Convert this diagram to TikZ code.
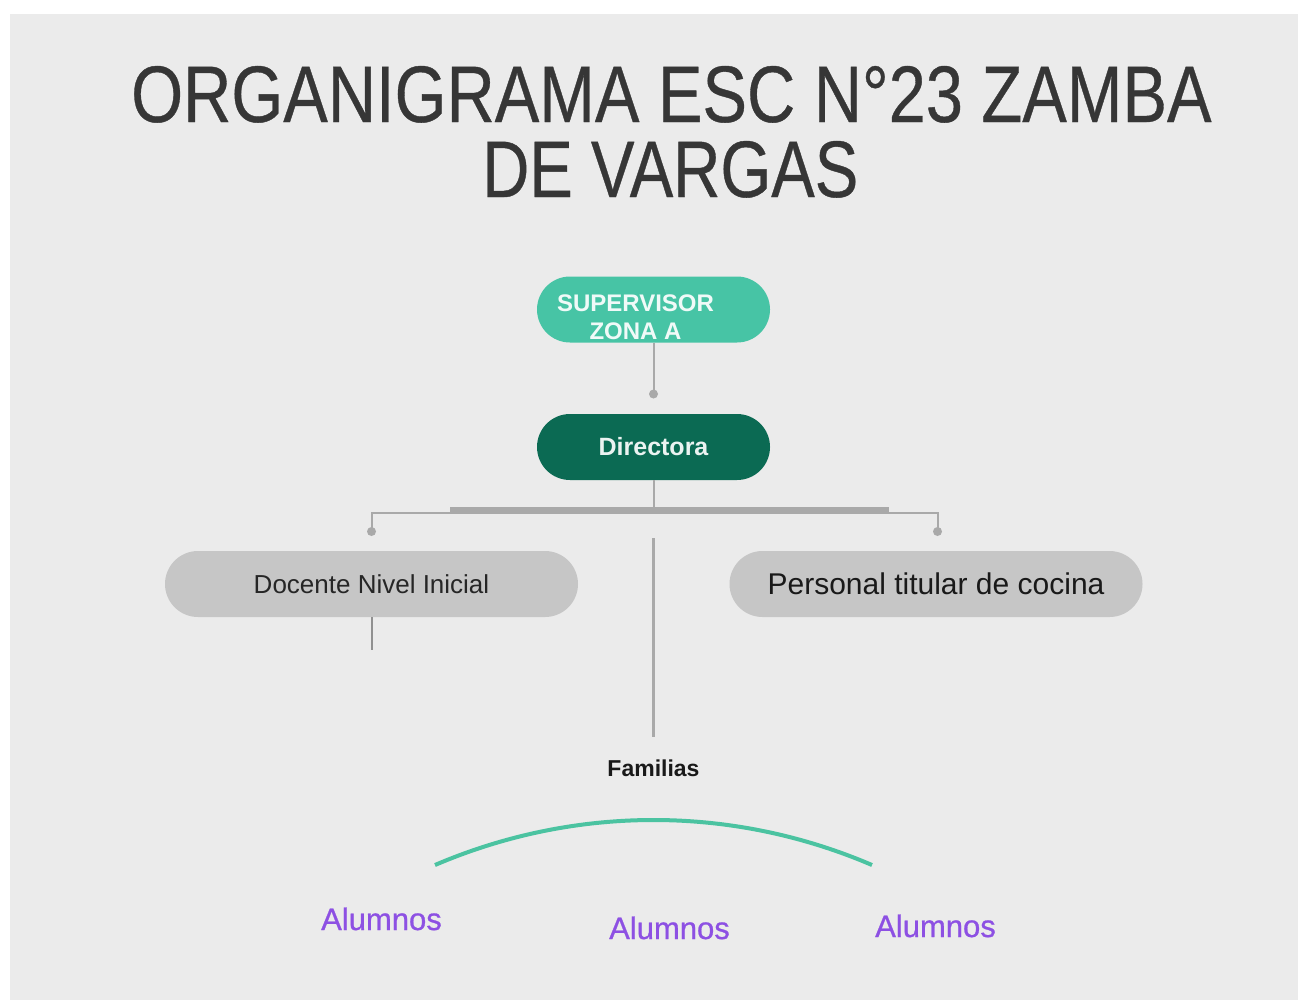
\documentclass[tikz,border=0pt]{standalone}
\usepackage{fontspec}
\setmainfont{Liberation Sans}
\newfontfamily\medfont[FakeBold=0.8]{Liberation Sans}
\newfontfamily\titlefont[FakeBold=0.5]{Liberation Sans}
\usepackage{graphicx}
\definecolor{bgcol}{HTML}{EBEBEB}
\definecolor{supcol}{HTML}{47C4A5}
\definecolor{dircol}{HTML}{0B6A53}
\definecolor{pillgray}{HTML}{C6C6C6}
\definecolor{linegray}{HTML}{A9A9A9}
\definecolor{titlecol}{HTML}{363636}
\definecolor{arccol}{HTML}{4BC3A1}
\definecolor{purp}{HTML}{8D50E3}
\begin{document}
\begin{tikzpicture}[x=1bp,y=-1bp,
  pill/.style={rectangle, rounded corners=33bp, minimum width=233bp, minimum height=66bp, inner sep=0pt},
  widepill/.style={rectangle, rounded corners=33bp, minimum width=413bp, minimum height=66bp, inner sep=0pt, fill=pillgray},
  conn/.style={draw=linegray, line width=2bp},
  dotnode/.style={circle, fill=linegray, minimum size=9bp, inner sep=0pt},
  alum/.style={text=purp, font=\medfont\fontsize{31bp}{36bp}\selectfont, inner sep=0pt, anchor=base}
]
\useasboundingbox (0,0) rectangle (1308,1003);
\fill[white] (0,0) rectangle (1308,1003);
\fill[bgcol] (10,14) rectangle (1298,1000);

% title
\node[anchor=base west, inner sep=0pt, text=titlecol, font=\titlefont] (title1) at (131,122)
  {\resizebox{1080bp}{56bp}{ORGANIGRAMA ESC N°23 ZAMBA}};
\node[anchor=base west, inner sep=0pt, text=titlecol, font=\titlefont] (title2) at (482,197)
  {\resizebox{376bp}{56bp}{DE VARGAS}};

% supervisor
\node[pill, fill=supcol, text=white!92!supcol, font=\bfseries\fontsize{24bp}{28bp}\selectfont] (sup) at (653.5,309.5)
  {\hspace*{-36bp}\raisebox{-29.5bp}[0pt][0pt]{\begin{tabular}[b]{@{}c@{}}SUPERVISOR\\ZONA A\end{tabular}}};
\node[dotnode] (dot1) at (653.5,394) {};
\draw[conn] (sup.south) -- (dot1.center);

% directora
\node[pill, fill=dircol, text=white!92!dircol, font=\bfseries\fontsize{25bp}{30bp}\selectfont] (dir) at (653.5,447) {Directora};

% bar
\coordinate (barmid) at (653.5,509);
\coordinate (barL) at (450,509.5);
\coordinate (barR) at (889,509.5);
\coordinate (hubL) at (371.5,512.5);
\coordinate (hubR) at (937.5,512.5);
\node[dotnode] (dotL) at (371.5,531.5) {};
\node[dotnode] (dotR) at (937.5,531.5) {};
\draw[conn] (dir.south) -- (barmid);
\draw[draw=linegray, line width=6bp] (barL) -- (barR);
\draw[conn] (dotL.center) -- (hubL) -- (hubR) -- (dotR.center);

% second row
\node[widepill, text=black!85, font=\fontsize{26bp}{30bp}\selectfont] (doc) at (371.5,584) {Docente Nivel Inicial};
\node[widepill, text=black!90, font=\fontsize{30bp}{34bp}\selectfont] (coc) at (936,584) {Personal titular de cocina};
\coordinate (docend) at (372,650);
\draw[draw=linegray!85!black, line width=1.5bp] (doc.south -| docend) -- (docend);

% central line
\coordinate (cstart) at (653.5,538);
\coordinate (cend) at (653.5,737);
\draw[draw=linegray, line width=3bp] (cstart) -- (cend);

% familias
\node[anchor=base, inner sep=0pt, text=black!90, font=\bfseries\fontsize{23bp}{28bp}\selectfont] (fam) at (653.5,776) {Familias};

% arc
\coordinate (arcL) at (435,865);
\coordinate (arcR) at (872,865);
\draw[arccol, line width=4bp] (arcL) .. controls (575,805) and (732,805) .. (arcR);

% alumnos
\node[alum] (al1) at (381.5,930) {Alumnos};
\node[alum] (al2) at (669.5,939) {Alumnos};
\node[alum] (al3) at (935.5,937) {Alumnos};
\end{tikzpicture}
\end{document}
